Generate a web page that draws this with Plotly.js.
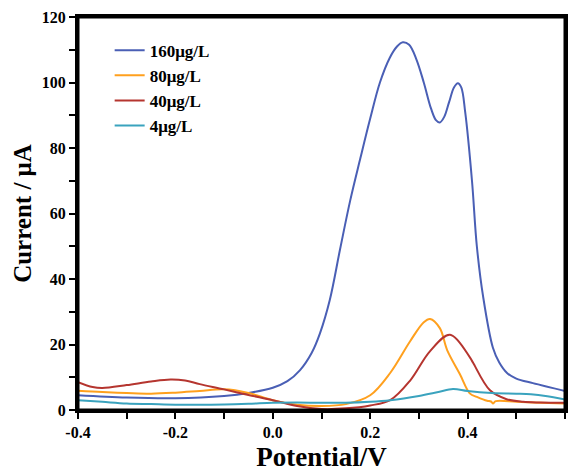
<!DOCTYPE html>
<html><head><meta charset="utf-8">
<script src="https://cdn.plot.ly/plotly-3.0.1.min.js"></script>
<style>body{margin:0;padding:0;background:#fff}#chart{width:574px;height:475px}</style>
</head><body><div id="chart"></div>
<script>
const seriesNames = ["160μg/L", "80μg/L", "40μg/L", "4μg/L"];
const seriesColors = ["#4a5fb5", "#ffa01e", "#b5352f", "#3aa3be"];
const xTickVals = [-0.4, -0.3, -0.2, -0.1, 0.0, 0.1, 0.2, 0.3, 0.4, 0.5, 0.6];
const xTickText = ["-0.4", "", "-0.2", "", "0.0", "", "0.2", "", "0.4", "", "0.6"];
const yTickVals = [0, 10, 20, 30, 40, 50, 60, 70, 80, 90, 100, 110, 120];
const yTickText = ["0", "", "20", "", "40", "", "60", "", "80", "", "100", "", "120"];

const x160 = [-0.4,-0.3,-0.2,-0.1,-0.05,0,0.03,0.056,0.08,0.097,0.117,0.138,0.159,0.18,0.2,0.22,0.24,0.255,0.267,0.28,0.295,0.31,0.325,0.335,0.343,0.352,0.362,0.372,0.38,0.387,0.395,0.409,0.419,0.432,0.452,0.465,0.481,0.5,0.534,0.6];
const y160 = [4.5,3.8,3.6,4.3,5.2,6.8,8.8,12.2,17.5,23.5,33.6,49,64,77,89,100,107.5,111,112.3,111.5,107,100,92,88.5,87.8,89.5,94,98.5,99.8,98.5,91,70,50,34.5,19,14.5,11.3,9.6,8.2,5.8];
const x80 = [-0.4,-0.35,-0.3,-0.25,-0.2,-0.15,-0.1,-0.05,0,0.05,0.1,0.15,0.2,0.241,0.282,0.31,0.323,0.343,0.358,0.384,0.405,0.419,0.44,0.448,0.452,0.458,0.5,0.55,0.6];
const y80 = [5.9,5.5,5.2,5.0,5.3,5.8,6.3,5.2,3.0,1.6,1.2,1.8,4.5,11.3,21,26.8,27.8,25,18.3,11,5,4,2.8,2.6,2.0,2.7,2.5,2.2,2.0];
const x40 = [-0.4,-0.37,-0.35,-0.3,-0.25,-0.21,-0.18,-0.15,-0.1,-0.05,0,0.05,0.1,0.15,0.2,0.241,0.282,0.323,0.364,0.405,0.411,0.446,0.48,0.514,0.55,0.6];
const y40 = [8.5,7.0,6.7,7.6,8.7,9.3,9.0,7.9,6.3,4.6,3.0,1.2,0.3,0.5,1.4,3,9,18,23,16,14.5,6,3.3,2.5,2.3,2.2];
const x4 = [-0.4,-0.35,-0.3,-0.25,-0.2,-0.15,-0.1,-0.05,0,0.05,0.1,0.15,0.2,0.241,0.3,0.34,0.37,0.4,0.45,0.5,0.53,0.56,0.6];
const y4 = [3.0,2.5,2.0,1.8,1.6,1.6,1.7,1.9,2.2,2.3,2.2,2.2,2.5,3.0,4.3,5.5,6.4,5.8,5.2,5.0,4.8,4.3,3.2];

const xs = [x160, x80, x40, x4];
const ys = [y160, y80, y40, y4];

const traces = seriesNames.map((n, i) => ({
  x: xs[i], y: ys[i], name: n, type: 'scatter', mode: 'lines',
  line: {color: seriesColors[i], width: 2, shape: 'spline', smoothing: 1}
}));

const fam = "Liberation Serif, Times New Roman, serif";
function axisBase() {
  return {
    showline: true, linecolor: '#000', linewidth: 3, mirror: true,
    ticks: 'outside', ticklen: 6, tickwidth: 2, tickcolor: '#000',
    showgrid: false, zeroline: false, tickmode: 'array',
    tickfont: {family: fam, size: 16, color: '#000', weight: 'bold'}
  };
}
const xaxis = axisBase();
xaxis.range = [-0.4, 0.6];
xaxis.tickvals = xTickVals;
xaxis.ticktext = xTickText;
xaxis.title = {text: 'Potential/V', font: {family: fam, size: 27, color: '#000', weight: 'bold'}, standoff: 7};
const yaxis = axisBase();
yaxis.range = [0, 120];
yaxis.tickvals = yTickVals;
yaxis.ticktext = yTickText;
yaxis.title = {text: 'Current / μA', font: {family: fam, size: 25, color: '#000', weight: 'bold'}, standoff: 4};

const layout = {
  width: 574, height: 475,
  margin: {l: 78, r: 9, t: 17, b: 65},
  showlegend: true,
  legend: {x: 0.065, y: 0.96, xanchor: 'left', yanchor: 'top', bgcolor: 'rgba(0,0,0,0)',
    font: {family: fam, size: 17, color: '#000', weight: 'bold'}},
  xaxis: xaxis,
  yaxis: yaxis,
  shapes: [{type: 'rect', xref: 'paper', yref: 'paper', x0: 0, x1: 1, y0: 0, y1: 1,
    line: {color: '#000', width: 3}}]
};

Plotly.newPlot('chart', traces, layout, {displayModeBar: false, staticPlot: true});
</script></body></html>
